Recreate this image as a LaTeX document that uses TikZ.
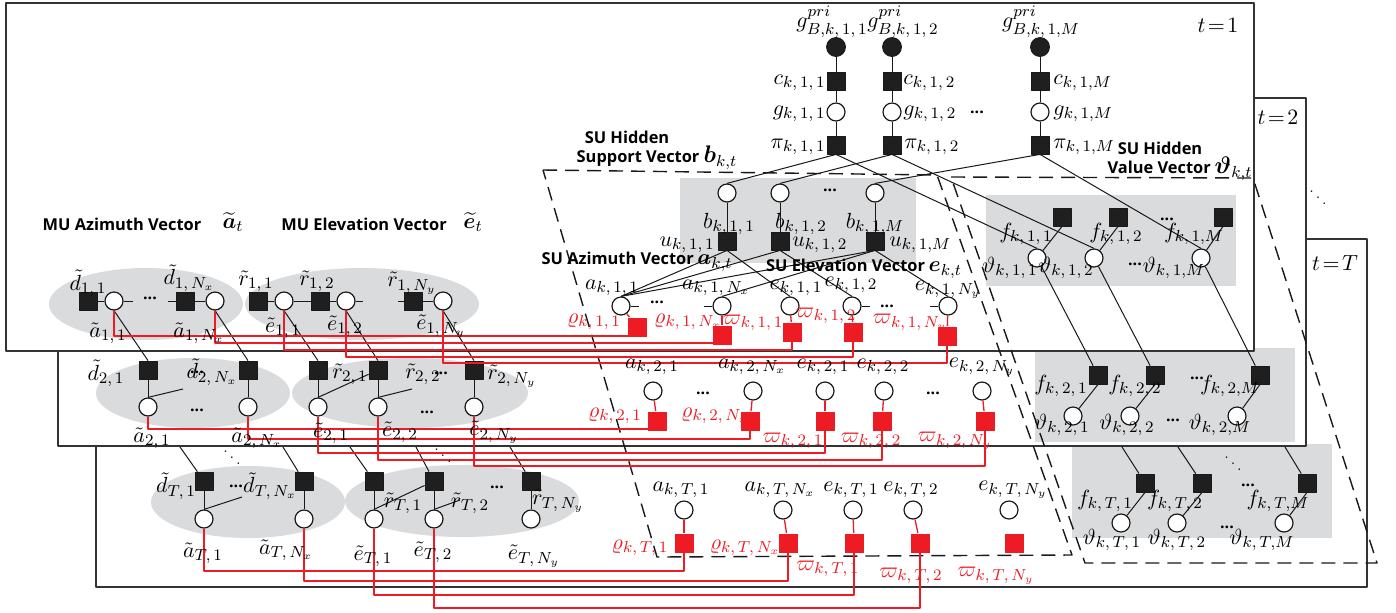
\documentclass[tikz,border=0pt]{standalone}
\usepackage{amsmath,bm}
\usepackage{fontspec}
\newfontfamily\sufont{Open Sans}
\definecolor{myred}{RGB}{237,28,36}
\definecolor{gbox}{RGB}{218,219,221}
\newcounter{lc}
\newcommand{\lab}[4][]{\stepcounter{lc}\node[lb,#1] (lab\arabic{lc}) at (#2,#3) {$#4$};}
\newcommand{\dts}[2]{\stepcounter{lc}\node[dt] (dt\arabic{lc}) at (#1,#2) {...};}
\newcommand{\ddt}[2]{\stepcounter{lc}\node[dd] (dd\arabic{lc}) at (#1,#2) {$\ddots$};}
\newcommand{\rline}[4]{\draw[rl] (#1.south) |- (#2.south |- 0,#3) -- (#2.south); \draw[rl] (#4) -- (#2);}
\begin{document}
\begin{tikzpicture}[x=0.5pt,y=-0.5pt,line join=round,
 fr/.style={draw=black!80,line width=0.75pt,fill=white},
 fac/.style={rectangle,draw=black!90,fill=black!88,minimum size=9pt,inner sep=0pt,line width=0.4pt},
 vr/.style={circle,draw=black!90,fill=white,minimum size=9pt,inner sep=0pt,line width=0.6pt},
 ob/.style={circle,draw=black!90,fill=black!88,minimum size=9.5pt,inner sep=0pt},
 rf/.style={rectangle,fill=myred,minimum size=9.5pt,inner sep=0pt},
 ln/.style={draw=black!90,line width=0.5pt},
 rl/.style={draw=myred,line width=0.65pt},
 dsh/.style={draw=black!90,line width=0.7pt,dash pattern=on 7pt off 4pt},
 lb/.style={inner sep=0pt,font=\fontsize{11}{12}\selectfont},
 rlb/.style={lb,text=myred},
 ttl/.style={inner sep=0pt,font=\sufont\bfseries\fontsize{8.2}{10}\selectfont},
 dt/.style={inner sep=0pt,font=\sufont\bfseries\fontsize{8}{8}\selectfont},
 dd/.style={inner sep=0pt,font=\fontsize{7}{7}\selectfont}]
\useasboundingbox (0,0) rectangle (1396,612);
\fill[white] (0,0) rectangle (1396,612);

% ================= t = T layer
\draw[fr] (96,239) rectangle (1367,587);
\fill[gbox] (248,502) ellipse [x radius=48.5pt,y radius=18pt];
\fill[gbox] (462,501) ellipse [x radius=58.5pt,y radius=18pt];
\fill[gbox] (1072,444) rectangle (1332,538);
\node[fac] (dT1) at (204,481) {};
\node[vr] (aT1m) at (204,519) {};
\node[fac] (dTN) at (304,481) {};
\node[vr] (aTNm) at (304,519) {};
\node[fac] (rT1m) at (374,481) {};
\node[vr] (eT1m) at (374,519) {};
\node[fac] (rT2m) at (434,481) {};
\node[vr] (eT2m) at (434,519) {};
\node[fac] (rTNm) at (531,481) {};
\node[vr] (eTNm) at (531,519) {};
\draw[ln] (dT1) -- (aT1m); \draw[ln] (dTN) -- (aTNm);
\draw[ln] (rT1m) -- (eT1m); \draw[ln] (rT2m) -- (eT2m); \draw[ln] (rTNm) -- (eTNm);
\draw[ln] (eT1m.north) -- (rT2m);
\coordinate (xT1) at (242,497); \draw[ln] (aT1m.north) -- (xT1);
\coordinate (xT2) at (460,500); \draw[ln] (eT2m.north) -- (xT2);
\coordinate (zT1) at (180,447); \draw[ln] (zT1) -- (dT1);
\coordinate (zT2) at (283,447); \draw[ln] (zT2) -- (dTN);
\coordinate (zT3) at (350,447); \draw[ln] (zT3) -- (rT1m);
\coordinate (zT4) at (416,447); \draw[ln] (zT4) -- (rT2m);
\coordinate (zT5) at (510,447); \draw[ln] (zT5) -- (rTNm);
\node[vr] (aT1) at (684,510) {};
\node[vr] (aTN) at (783,510) {};
\node[vr] (eT1) at (853,510) {};
\node[vr] (eT2) at (913,510) {};
\node[vr] (eTN) at (1009,510) {};
\node[rf] (rT1) at (684,543) {};
\node[rf] (rTN) at (788,543) {};
\node[rf] (wT1) at (854,543) {};
\node[rf] (wT2) at (920,543) {};
\node[rf] (wTN) at (1014,543) {};
\node[fac] (fT1) at (1145,483) {};
\node[fac] (fT2) at (1202,483) {};
\node[fac] (fTM) at (1307,483) {};
\node[vr] (tT1) at (1121,523) {};
\node[vr] (tT2) at (1177,523) {};
\node[vr] (tTM) at (1284,523) {};
\draw[ln] (fT1.south) -- (tT1); \draw[ln] (fT2.south) -- (tT2); \draw[ln] (fTM.south) -- (tTM);
\coordinate (zT6) at (1122,447); \draw[ln] (zT6) -- (fT1);
\coordinate (zT7) at (1178,447); \draw[ln] (zT7) -- (fT2);
\coordinate (zT8) at (1285,447); \draw[ln] (zT8) -- (fTM);

% ================= t = 2 layer
\draw[fr] (58,98) rectangle (1306,446);
\fill[gbox] (193,393) ellipse [x radius=48.5pt,y radius=17.5pt];
\fill[gbox] (410,393) ellipse [x radius=59pt,y radius=17.5pt];
\fill[gbox] (1035,348) rectangle (1295,442);
\node[fac] (d21) at (148,370) {};
\node[vr] (a21m) at (148,407) {};
\node[fac] (d2N) at (248,370) {};
\node[vr] (a2Nm) at (248,407) {};
\node[fac] (r21m) at (318,370) {};
\node[vr] (e21m) at (318,407) {};
\node[fac] (r22m) at (378,370) {};
\node[vr] (e22m) at (378,407) {};
\node[fac] (r2Nm) at (474,370) {};
\node[vr] (e2Nm) at (474,407) {};
\draw[ln] (d21) -- (a21m); \draw[ln] (d2N) -- (a2Nm);
\draw[ln] (r21m) -- (e21m); \draw[ln] (r22m) -- (e22m); \draw[ln] (r2Nm) -- (e2Nm);
\draw[ln] (e21m.north) -- (r22m);
\coordinate (x21) at (183,389); \draw[ln] (a21m.north) -- (x21);
\coordinate (x22) at (412,389); \draw[ln] (e22m.north) -- (x22);
\node[vr] (a21) at (653,391) {};
\node[vr] (a2N) at (753,391) {};
\node[vr] (e21) at (825,391) {};
\node[vr] (e22) at (884,391) {};
\node[vr] (e2N) at (982,391) {};
\node[rf] (r21) at (657,421) {};
\node[rf] (r2N) at (750,421) {};
\node[rf] (w21) at (825,421) {};
\node[rf] (w22) at (882,421) {};
\node[rf] (w2N) at (985,421) {};
\node[fac] (f21) at (1098,375) {};
\node[fac] (f22) at (1155,375) {};
\node[fac] (f2M) at (1260,375) {};
\node[vr] (t21) at (1073,416) {};
\node[vr] (t22) at (1130,416) {};
\node[vr] (t2M) at (1237,416) {};
\draw[ln] (f21.south) -- (t21); \draw[ln] (f22.south) -- (t22); \draw[ln] (f2M.south) -- (t2M);

% ================= t = 1 layer
\draw[fr] (6,3) rectangle (1254,351);
\fill[gbox] (146,304) ellipse [x radius=48.5pt,y radius=18pt];
\fill[gbox] (362,304) ellipse [x radius=58.5pt,y radius=18pt];
\fill[gbox] (680,178) rectangle (916,263);
\fill[gbox] (986,195) rectangle (1236,286);
% prior columns
\node[ob] (gp1) at (836,47) {};
\node[ob] (gp2) at (892,47) {};
\node[ob] (gpM) at (1040,47) {};
\node[fac] (c1) at (836,81) {};
\node[fac] (c2) at (892,81) {};
\node[fac] (cM) at (1040,81) {};
\node[vr] (g1) at (836,112) {};
\node[vr] (g2) at (892,112) {};
\node[vr] (gM) at (1040,112) {};
\node[fac] (p1) at (836,145) {};
\node[fac] (p2) at (892,145) {};
\node[fac] (pM) at (1040,145) {};
\foreach \i in {1,2,M}{
  \draw[ln] (gp\i) -- (c\i); \draw[ln] (c\i) -- (g\i); \draw[ln] (g\i) -- (p\i);}
% support
\node[vr] (b1) at (727,193) {};
\node[vr] (b2) at (780,193) {};
\node[vr] (bM) at (875,193) {};
\node[fac] (u1) at (727,241) {};
\node[fac] (u2) at (780,241) {};
\node[fac] (uM) at (875,241) {};
% SU angles t=1
\node[vr] (a11) at (621,306) {};
\node[vr] (a1N) at (722,306) {};
\node[vr] (e11) at (790,306) {};
\node[vr] (e12) at (852,306) {};
\node[vr] (e1N) at (948,306) {};
\node[rf] (r11) at (637,327) {};
\node[rf] (r1N) at (722,335) {};
\node[rf] (w11) at (792,332) {};
\node[rf] (w12) at (853,332) {};
\node[rf] (w1N) at (947,336) {};
% value t=1
\node[fac] (f11) at (1062,217) {};
\node[fac] (f12) at (1118,217) {};
\node[fac] (f1M) at (1223,217) {};
\node[vr] (t11) at (1037,258) {};
\node[vr] (t12) at (1094,258) {};
\node[vr] (t1M) at (1201,258) {};
% MU t=1
\node[fac] (d11) at (88,301) {};
\node[vr] (a11m) at (114,301) {};
\node[fac] (d1N) at (185,301) {};
\node[vr] (a1Nm) at (215,301) {};
\node[fac] (r11m) at (258,301) {};
\node[vr] (e11m) at (284,301) {};
\node[fac] (r12m) at (320,301) {};
\node[vr] (e12m) at (346,301) {};
\node[fac] (r1Nm) at (413,301) {};
\node[vr] (e1Nm) at (443,301) {};

\foreach \i in {1,2,M}{
  \draw[ln] (p\i.south) -- (b\i.north);
  \draw[ln] (p\i.south) -- (t1\i.north);
  \draw[ln] (b\i) -- (u\i);
  \draw[ln] (f1\i.south) -- (t1\i);
  \draw[ln] (t1\i) -- (f2\i);}
\draw[ln] (u1.south) -- (a11.north);
\draw[ln] (u2.south) -- (a11.north);
\draw[ln] (uM.south) -- (a11.north);
\draw[ln] (uM.south) -- (a1N.north);
\draw[ln] (u1.south) -- (e11.north);
\draw[ln] (u2.south) -- (e12.north);
\draw[ln] (uM.south) -- (e1N.north);
\coordinate (sa1) at (639,306); \draw[ln] (a11) -- (sa1);
\coordinate (sa2) at (704,306); \draw[ln] (sa2) -- (a1N);
\coordinate (se1) at (870,306); \draw[ln] (e12) -- (se1);
\coordinate (se2) at (930,306); \draw[ln] (se2) -- (e1N);
% MU t=1 chains
\draw[ln] (d11) -- (a11m);
\coordinate (sm1) at (133,301); \draw[ln] (a11m) -- (sm1);
\coordinate (sm2) at (168,301); \draw[ln] (sm2) -- (d1N);
\draw[ln] (d1N) -- (a1Nm);
\draw[ln] (r11m) -- (e11m); \draw[ln] (e11m) -- (r12m); \draw[ln] (r12m) -- (e12m);
\coordinate (sm3) at (363,301); \draw[ln] (e12m) -- (sm3);
\coordinate (sm4) at (398,301); \draw[ln] (sm4) -- (r1Nm);
\draw[ln] (r1Nm) -- (e1Nm);
% MU t=1 -> t=2
\draw[ln] (a11m.south) -- (d21.north);
\draw[ln] (a1Nm.south) -- (d2N.north);
\draw[ln] (e11m.south) -- (r21m.north);
\draw[ln] (e12m.south) -- (r22m.north);
\draw[ln] (e1Nm.south) -- (r2Nm.north);

% ================= dashed groups
\draw[dsh] (543,170) -- (937,175) -- (1072,555) -- (657,557) -- cycle;
\draw[dsh] (951,177) -- (1253,178) -- (1377,563) -- (1085,563) -- cycle;

% ================= red links
\rline{a11m}{r11}{336}{a11}
\rline{a1Nm}{r1N}{343}{a1N}
\rline{e11m}{w11}{350}{e11}
\rline{e12m}{w12}{357}{e12}
\rline{e1Nm}{w1N}{363}{e1N}
\rline{a21m}{r21}{429}{a21}
\rline{a2Nm}{r2N}{439}{a2N}
\rline{e21m}{w21}{453}{e21}
\rline{e22m}{w22}{460}{e22}
\rline{e2Nm}{w2N}{466}{e2N}
\rline{aT1m}{rT1}{571}{aT1}
\rline{aTNm}{rTN}{581}{aTN}
\rline{eT1m}{wT1}{595}{eT1}
\rline{eT2m}{wT2}{608}{eT2}

% ================= titles
\node[ttl] (tt1) at (627,137) {SU Hidden};
\node[ttl] (tt2) at (657,158) {Support Vector {\fontsize{11.5}{12}\selectfont$\bm{b}_{k,t}$}};
\node[ttl] (tt3) at (1160,148) {SU Hidden};
\node[ttl] (tt4) at (1180,169) {Value Vector{\fontsize{11.5}{12}\selectfont$\,\bm{\vartheta}_{k,t}$}};
\node[ttl] (tt5) at (122,224) {MU Azimuth Vector};
\node[lb] (tt6) at (233,222) {$\widetilde{\bm{a}}_t$};
\node[ttl] (tt7) at (364,224) {MU Elevation Vector};
\node[lb] (tt8) at (473,222) {$\widetilde{\bm{e}}_t$};
\node[ttl] (tt9) at (637,262) {SU Azimuth Vector{\fontsize{11}{12}\selectfont$\,\bm{a}_{k,t}$}};
\node[ttl] (tt10) at (864,269) {SU Elevation Vector{\fontsize{11}{12}\selectfont$\,\bm{e}_{k,t}$}};
\lab{1218}{25}{t\!=\!1}
\lab{1278}{117}{t\!=\!2}
\lab{1335}{263}{t\!=\!T}

% ================= labels t=1 top
\lab{832}{22}{g^{pri}_{B,k,\,1,\,1}}
\lab{903}{22}{g^{pri}_{B,k,\,1,\,2}}
\lab{1041}{22}{g^{pri}_{B,k,\,1,M}}
\lab[anchor=east]{826}{83}{c_{k,\,1,\,1}}
\lab[anchor=west]{903}{83}{c_{k,\,1,\,2}}
\lab[anchor=west]{1053}{83}{c_{k,\,1,M}}
\lab[anchor=east]{826}{114}{g_{k,\,1,\,1}}
\lab[anchor=west]{903}{114}{g_{k,\,1,\,2}}
\lab[anchor=west]{1053}{114}{g_{k,\,1,M}}
\dts{977}{112}
\lab[anchor=east]{826}{147}{\pi_{k,\,1,\,1}}
\lab[anchor=west]{904}{147}{\pi_{k,\,1,\,2}}
\lab[anchor=west]{1053}{147}{\pi_{k,\,1,M}}
% support
\lab{729}{224}{b_{k,\,1,\,1}}
\lab{801}{224}{b_{k,\,1,\,2}}
\lab{875}{224}{b_{k,\,1,M}}
\dts{830}{190}
\lab[anchor=east]{715}{245}{u_{k,\,1,\,1}}
\lab[anchor=west]{792}{245}{u_{k,\,1,\,2}}
\lab[anchor=west]{889}{245}{u_{k,\,1,M}}
% SU angles t=1
\lab{612}{288}{a_{k,\,1,\,1}}
\lab{716}{288}{a_{k,\,1,\,N_x}}
\lab{796}{288}{e_{k,\,1,\,1}}
\lab{851}{285}{e_{k,\,1,\,2}}
\lab{948}{290}{e_{k,\,1,\,N_y}}
\dts{657}{302}
\dts{887}{306}
\lab[rlb]{594}{322}{\varrho_{k,\,1,\,1}}
\lab[rlb]{688}{322}{\varrho_{k,\,1,\,N_x}}
\lab[rlb]{753}{323}{\varpi_{k,\,1,\,1}}
\lab[rlb]{826}{316}{\varpi_{k,\,1,\,2}}
\lab[rlb]{910}{323}{\varpi_{k,\,1,\,N_y}}
% value t=1
\lab{1026}{234}{f_{k,\,1,\,1}}
\lab{1116}{234}{f_{k,\,1,\,2}}
\lab{1194}{234}{f_{k,\,1,M}}
\dts{1167}{219}
\lab{1010}{268}{\vartheta_{k,\,1,\,1}}
\lab{1066}{268}{\vartheta_{k,\,1,\,2}}
\lab{1174}{268}{\vartheta_{k,\,1,M}}
\dts{1135}{264}
% MU t=1
\lab{88}{283}{\tilde{d}_{1,\,1}}
\lab{189}{278}{\tilde{d}_{1,\,N_x}}
\lab{256}{281}{\tilde{r}_{1,\,1}}
\lab{317}{281}{\tilde{r}_{1,\,2}}
\lab{412}{283}{\tilde{r}_{1,\,N_y}}
\lab{108}{333}{\tilde{a}_{1,\,1}}
\lab{199}{333}{\tilde{a}_{1,\,N_x}}
\lab{283}{328}{\tilde{e}_{1,\,1}}
\lab{345}{326}{\tilde{e}_{1,\,2}}
\lab{441}{326}{\tilde{e}_{1,\,N_y}}
\dts{150}{298}
% MU t=2
\lab{106}{373}{\tilde{d}_{2,\,1}}
\lab{212}{372}{\tilde{d}_{2,\,N_x}}
\lab{350}{374}{\tilde{r}_{2,\,1}}
\lab{423}{374}{\tilde{r}_{2,\,2}}
\lab{512}{376}{\tilde{r}_{2,\,N_y}}
\lab{152}{438}{\tilde{a}_{2,\,1}}
\lab{257}{438}{\tilde{a}_{2,\,N_x}}
\lab{331}{433}{\tilde{e}_{2,\,1}}
\lab{400}{432}{\tilde{e}_{2,\,2}}
\lab{494}{432}{\tilde{e}_{2,\,N_y}}
\dts{197}{372}
\dts{197}{410}
\dts{441}{373}
\dts{427}{412}
% MU t=T
\lab{176}{486}{\tilde{d}_{T,\,1}}
\lab{270}{486}{\tilde{d}_{T,\,N_x}}
\lab{403}{503}{\tilde{r}_{T,\,1}}
\lab{470}{503}{\tilde{r}_{T,\,2}}
\lab{558}{501}{\tilde{r}_{T,\,N_y}}
\lab{203}{553}{\tilde{a}_{T,\,1}}
\lab{286}{550}{\tilde{a}_{T,\,N_x}}
\lab{373}{556}{\tilde{e}_{T,\,1}}
\lab{433}{552}{\tilde{e}_{T,\,2}}
\lab{534}{556}{\tilde{e}_{T,\,N_y}}
\dts{236}{486}
\dts{497}{487}
\ddt{232}{452}
\ddt{443}{450}
% SU t=2
\lab{652}{367}{a_{k,\,2,\,1}}
\lab{752}{367}{a_{k,\,2,\,N_x}}
\lab{823}{367}{e_{k,\,2,\,1}}
\lab{883}{367}{e_{k,\,2,\,2}}
\lab{982}{367}{e_{k,\,2,\,N_y}}
\dts{703}{393}
\dts{933}{393}
\lab[rlb]{615}{416}{\varrho_{k,\,2,\,1}}
\lab[rlb]{715}{416}{\varrho_{k,\,2,\,N_x}}
\lab[rlb]{793}{441}{\varpi_{k,\,2,\,1}}
\lab[rlb]{871}{441}{\varpi_{k,\,2,\,2}}
\lab[rlb]{955}{441}{\varpi_{k,\,2,\,N_y}}
% SU t=T
\lab{681}{490}{a_{k,\,T,\,1}}
\lab{780}{490}{a_{k,\,T,\,N_x}}
\lab{851}{490}{e_{k,\,T,\,1}}
\lab{911}{490}{e_{k,\,T,\,2}}
\lab{1013}{490}{e_{k,\,T,\,N_y}}
\lab[rlb]{640}{548}{\varrho_{k,\,T,\,1}}
\lab[rlb]{745}{548}{\varrho_{k,\,T,\,N_x}}
\lab[rlb]{828}{569}{\varpi_{k,\,T,\,1}}
\lab[rlb]{911}{576}{\varpi_{k,\,T,\,2}}
\lab[rlb]{996}{576}{\varpi_{k,\,T,\,N_y}}
% value t=2
\lab{1061}{386}{f_{k,\,2,\,1}}
\lab{1135}{386}{f_{k,\,2,\,2}}
\lab{1230}{386}{f_{k,\,2,M}}
\dts{1197}{378}
\lab{1062}{425}{\vartheta_{k,\,2,\,1}}
\lab{1127}{425}{\vartheta_{k,\,2,\,2}}
\lab{1220}{425}{\vartheta_{k,\,2,M}}
\dts{1173}{420}
% value t=T
\lab{1105}{501}{f_{k,\,T,\,1}}
\lab{1175}{501}{f_{k,\,T,\,2}}
\lab{1278}{501}{f_{k,\,T,M}}
\dts{1248}{485}
\lab{1112}{540}{\vartheta_{k,\,T,\,1}}
\lab{1177}{540}{\vartheta_{k,\,T,\,2}}
\lab{1262}{540}{\vartheta_{k,\,T,M}}
\dts{1227}{527}
\ddt{1233}{458}
\ddt{1318}{192}
\end{tikzpicture}
\end{document}
